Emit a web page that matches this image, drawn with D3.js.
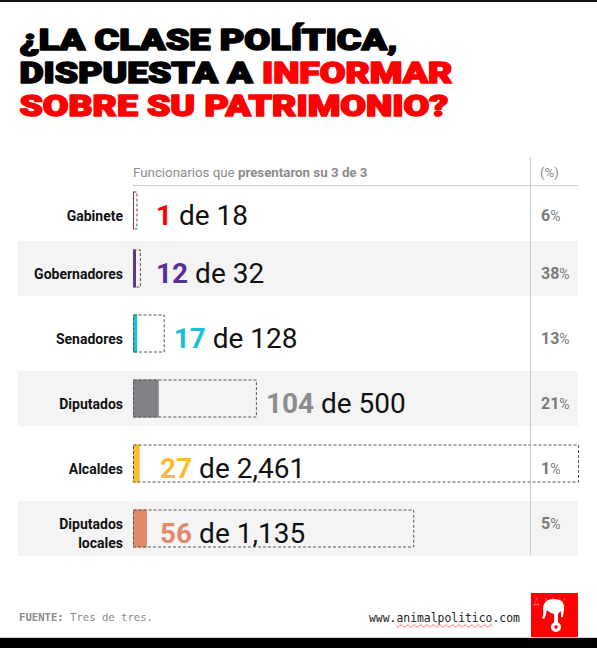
<!DOCTYPE html>
<meta charset="utf-8">
<title>Clase política 3 de 3</title>
<style>

body {
  margin: 0;
  background: #fff;
}

text {
  font-family: Roboto, "Liberation Sans", sans-serif;
}

.mono {
  font-family: "DejaVu Sans Mono", monospace;
}

</style>
<body>
<script src="https://d3js.org/d3.v7.min.js"></script>
<script>

// datos
var categories = ["Gabinete", "Gobernadores", "Senadores", "Diputados", "Alcaldes", "Diputados locales"],
    presented = [1, 12, 17, 104, 27, 56],
    totals = [18, 32, 128, 500, 2461, 1135],
    percents = [6, 38, 13, 21, 1, 5];

var headerText = ["Funcionarios que ", "presentaron su 3 de 3"],
    sourceText = ["FUENTE:", " Tres de tres."],
    siteText = ["www.", "animalpolitico", ".com"];

var red = "#ff0000";

var titleLines = [
  [["¿LA CLASE POLÍTICA,", "#000"]],
  [["DISPUESTA A ", "#000"], ["INFORMAR", red]],
  [["SOBRE SU PATRIMONIO?", red]]
];

var w = 597,
    h = 648,
    x0 = 133,
    right = 578,
    headerY = 185,
    barH = 38;

var color = d3.scaleOrdinal()
    .domain(categories)
    .range([red, "#5c2f92", "#1bbfd7", "#828286", "#fdbc2f", "#e08a6b"]);

var numColor = d3.scaleOrdinal()
    .domain(categories)
    .range([red, "#5c2f92", "#1bbfd7", "#8c8c8f", "#fdbc2f", "#e08a6b"]);

var x = d3.scaleLinear()
    .domain([0, 1800])
    .range([x0, right + 1])
    .clamp(true);

var y = d3.scaleBand()
    .domain(categories)
    .range([171, 561]);

var fmt = d3.format(",");

function cy(d) {
  var top = Math.max(y(d), headerY);
  return (top + y(d) + y.bandwidth()) / 2;
}

var svg = d3.select("body").append("svg")
    .attr("width", w)
    .attr("height", h);

svg.append("rect")
    .attr("width", w)
    .attr("height", 2)
    .attr("fill", "#111");

// titulo
var titleW = [379, 434, 430];
titleLines.forEach(function(line, i) {
  var t = svg.append("text")
      .attr("font-size", 29)
      .attr("font-weight", 900)
      .attr("stroke-width", 1.6)
      .attr("stroke-linejoin", "round");
  line.forEach(function(seg) {
    t.append("tspan").attr("fill", seg[1]).attr("stroke", seg[1]).text(seg[0]);
  });
  var len = t.node().getComputedTextLength();
  t.attr("transform", "translate(19.5," + (50 + i * 33) + ") scale(" + ((titleW[i] - 1) / len) + ",1)");
});

var rows = categories.map(function(c, i) {
  return {name: c, n: presented[i], total: totals[i], pct: percents[i], i: i};
});

// bandas grises
svg.selectAll("rect.band")
    .data(rows.filter(function(d) { return d.i % 2 == 1; }))
  .enter().append("rect")
    .attr("class", "band")
    .attr("x", 18)
    .attr("width", right - 18)
    .attr("y", function(d) { return cy(d.name) - 27.5; })
    .attr("height", 55)
    .attr("fill", "#f4f4f4");

// encabezado
var head = svg.append("text")
    .attr("x", x0)
    .attr("y", 177)
    .attr("font-size", 13.3)
    .attr("fill", "#8c8c8c");
head.append("tspan").text(headerText[0]);
head.append("tspan").attr("font-weight", 700).text(headerText[1]);

svg.append("text")
    .attr("x", 540)
    .attr("y", 177)
    .attr("font-size", 13.3)
    .attr("fill", "#8c8c8c")
    .text("(%)");

svg.append("line")
    .attr("x1", x0).attr("x2", right)
    .attr("y1", headerY + .5).attr("y2", headerY + .5)
    .attr("stroke", "#cfcfcf");

// barras
var g = svg.selectAll("g.row")
    .data(rows)
  .enter().append("g")
    .attr("class", "row");

g.append("rect")
    .attr("x", x0)
    .attr("y", function(d) { return cy(d.name) - barH / 2; })
    .attr("width", function(d) { return Math.max(1, x(d.n) - x0); })
    .attr("height", barH)
    .attr("fill", function(d) { return color(d.name); });

g.append("rect")
    .attr("x", x0 + .5)
    .attr("y", function(d) { return cy(d.name) - barH / 2 + .5; })
    .attr("width", function(d) { return x(d.total) - x0 - 1; })
    .attr("height", barH - 1)
    .attr("fill", "none")
    .attr("stroke", "#555")
    .attr("stroke-dasharray", "3,2");

// etiquetas de categoria
g.each(function(d) {
  var lines = d.name.split(" ");
  var t = d3.select(this).append("text")
      .attr("text-anchor", "end")
      .attr("font-size", 14)
      .attr("font-weight", 700)
      .attr("fill", "#111");
  lines.forEach(function(l, k) {
    t.append("tspan")
        .attr("x", 123)
        .attr("y", cy(d.name) + 10 - (lines.length - 1) * 9.5 + k * 19)
        .text(l);
  });
  d.labelY = cy(d.name) + 10 - (lines.length - 1) * 9.5;
});

// "n de total"
var val = g.append("text")
    .attr("x", function(d) {
      var end = x(d.total);
      return d.total > 1000 ? x0 + 27 : Math.max(end + 9, x0 + 23);
    })
    .attr("y", function(d) { return cy(d.name) + 14; })
    .attr("font-size", 28);

val.append("tspan")
    .attr("font-weight", 700)
    .attr("fill", function(d) { return numColor(d.name); })
    .text(function(d) { return fmt(d.n); });

val.append("tspan")
    .attr("fill", "#111")
    .text(function(d) { return " de " + fmt(d.total); });

// porcentajes
var pct = g.append("text")
    .attr("x", 541)
    .attr("y", function(d) { return d.labelY; })
    .attr("fill", "#7a7a7a");

pct.append("tspan")
    .attr("font-size", 16)
    .attr("font-weight", 700)
    .text(function(d) { return d.pct; });

pct.append("tspan")
    .attr("font-size", 14)
    .text("%");

svg.append("line")
    .attr("x1", 530.5).attr("x2", 530.5)
    .attr("y1", 157).attr("y2", 555)
    .attr("stroke", "#c8c8c8");

// pie
var src = svg.append("text")
    .attr("class", "mono")
    .attr("x", 19)
    .attr("y", 621)
    .attr("font-size", 10.6)
    .attr("fill", "#8a8a8a");
src.append("tspan").attr("font-weight", 700).text(sourceText[0]);
src.append("tspan").text(sourceText[1]);

var site = svg.append("text")
    .attr("class", "mono")
    .attr("x", 369)
    .attr("y", 621.5)
    .attr("font-size", 11.4)
    .attr("fill", "#222");
site.selectAll("tspan")
    .data(siteText)
  .enter().append("tspan")
    .text(function(d) { return d; });

var uStart = 369 + site.node().getSubStringLength(0, 4),
    uEnd = 369 + site.node().getSubStringLength(0, 18);

var wave = d3.range(uStart, uEnd + 0.5, 1).map(function(px) {
  return [px, 626 + 1.2 * Math.sin((px - uStart) / 3.2 * Math.PI)];
});

svg.append("path")
    .attr("d", d3.line()(wave))
    .attr("fill", "none")
    .attr("stroke", "#ff6464")
    .attr("stroke-width", 1);

// logo
var logo = svg.append("g")
    .attr("transform", "translate(531,593)");

logo.append("rect")
    .attr("width", 47)
    .attr("height", 44)
    .attr("fill", red);

logo.append("text")
    .attr("x", 2)
    .attr("y", 14)
    .attr("font-size", 12)
    .attr("font-weight", 100)
    .attr("letter-spacing", 4)
    .attr("fill", "#ffb3b3")
    .text("AMX");

logo.append("path")
    .attr("d", "M12,16 C12,9 17,6 23,6 C30,6 34,10 33,16 L32,24 L30,24 L30,18 C28,20 27,20 27,21 L27,30 L23,30 L23,21 C20,20 18,19 16,17 C15,20 15,23 13,26 L11,25 C13,22 12,19 12,16 Z")
    .attr("fill", "#fff");

logo.append("circle")
    .attr("cx", 25)
    .attr("cy", 34)
    .attr("r", 5)
    .attr("fill", "#fff");

logo.append("circle")
    .attr("cx", 25)
    .attr("cy", 34)
    .attr("r", 1.8)
    .attr("fill", red);

svg.append("rect")
    .attr("y", 637)
    .attr("width", w)
    .attr("height", 1)
    .attr("fill", "#d0d0d0");

svg.append("rect")
    .attr("y", 638)
    .attr("width", w)
    .attr("height", 10)
    .attr("fill", "#000");

</script>
